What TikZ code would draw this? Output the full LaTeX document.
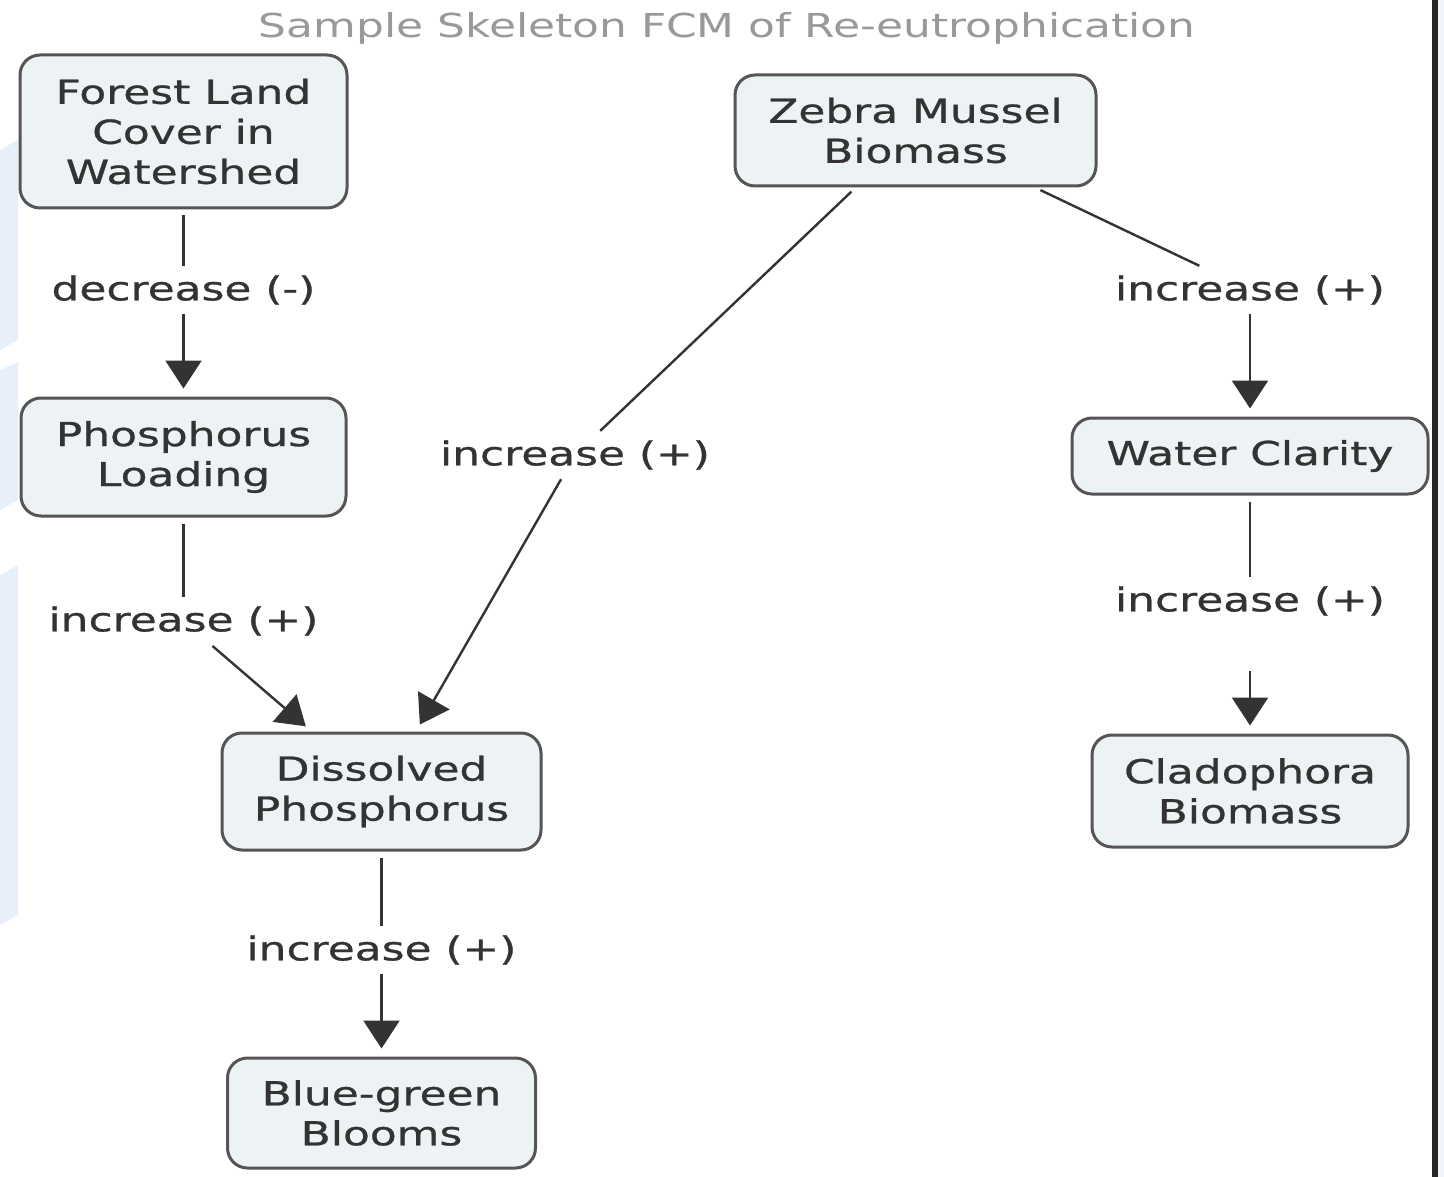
\documentclass[tikz,border=0pt]{standalone}
\usepackage{fontspec}
\usetikzlibrary{arrows.meta}
\newfontfamily\vf[FakeStretch=1.33,FakeBold=0.8]{DejaVu Sans}
\newfontfamily\vt[FakeStretch=1.33]{DejaVu Sans}
\definecolor{boxfill}{HTML}{EDF2F5}
\definecolor{boxline}{HTML}{555555}
\definecolor{txt}{HTML}{333333}
\definecolor{wm}{HTML}{E6EFFA}
\begin{document}
\begin{tikzpicture}[x=1pt,y=-1pt,
  concept/.style={draw=boxline, fill=boxfill, line width=3pt, rounded corners=20pt,
    align=center, text=txt, inner sep=0pt, font=\vf\fontsize{33}{40}\selectfont},
  linklabel/.style={text=txt, inner sep=0pt, minimum height=48pt, minimum width=250pt,
    font=\vf\fontsize{33}{40}\selectfont},
  conn/.style={draw=black!80, line width=2.4pt, shorten <=6pt},
  connarrow/.style={draw=black!80, line width=2.4pt, shorten >=8pt,
    -{Triangle[length=28pt,width=36pt]}}
]
\useasboundingbox (0,0) rectangle (1444,1177);
\fill[white] (0,0) rectangle (1444,1177);
% faint watermark on the left
\fill[wm] (0,150) -- (18,140) -- (18,340) -- (0,350) -- cycle;
\fill[wm] (0,370) -- (18,362) -- (18,500) -- (0,510) -- cycle;
\fill[wm] (0,575) -- (18,565) -- (18,915) -- (0,925) -- cycle;
% right edge
\fill[wm!60] (1438,0) rectangle (1444,1177);
\fill[black!85] (1432,0) rectangle (1438,1177);

% title
\node[text=black!40, font=\vt\fontsize{33}{40}\selectfont] (title) at (727,28) {Sample Skeleton FCM of Re-eutrophication};

% concepts
\node[concept, minimum width=327pt, minimum height=153pt] (forest) at (183.5,131.5) {Forest Land\\Cover in\\Watershed};
\node[concept, minimum width=325pt, minimum height=118pt] (phos) at (183.5,457) {Phosphorus\\Loading};
\node[concept, minimum width=361pt, minimum height=111pt] (zebra) at (915.5,130.5) {Zebra Mussel\\Biomass};
\node[concept, minimum width=356pt, minimum height=76pt] (water) at (1250,456) {Water Clarity};
\node[concept, minimum width=316pt, minimum height=112pt] (clad) at (1250,791) {Cladophora\\Biomass};
\node[concept, minimum width=319pt, minimum height=117pt] (diss) at (381.5,791.5) {Dissolved\\Phosphorus};
\node[concept, minimum width=308pt, minimum height=110pt] (blue) at (381.5,1113) {Blue-green\\Blooms};

% link labels
\node[linklabel] (l1) at (183.5,290) {decrease (-)};
\node[linklabel] (l2) at (183.5,621) {increase (+)};
\node[linklabel] (l3) at (575,455) {increase (+)};
\node[linklabel] (l4) at (1250,290) {increase (+)};
\node[linklabel] (l5) at (1250,601) {increase (+)};
\node[linklabel] (l6) at (381.5,950) {increase (+)};

% connectors
\draw[conn] (forest) -- (l1);
\draw[connarrow] (l1) -- (phos);
\draw[conn] (phos) -- (l2);
\draw[connarrow] (l2.center) ++(29,25) coordinate (l2s) -- (diss);
\draw[conn] (zebra) -- (l3);
\draw[connarrow] (l3) -- (diss);
\draw[conn] (zebra) -- (l4);
\draw[connarrow] (l4) -- (water);
\draw[conn] (water) -- (l5);
\draw[connarrow] (l5.center) ++(0,70) coordinate (l5s) -- (clad);
\draw[conn] (diss) -- (l6);
\draw[connarrow] (l6) -- (blue);
\end{tikzpicture}
\end{document}
